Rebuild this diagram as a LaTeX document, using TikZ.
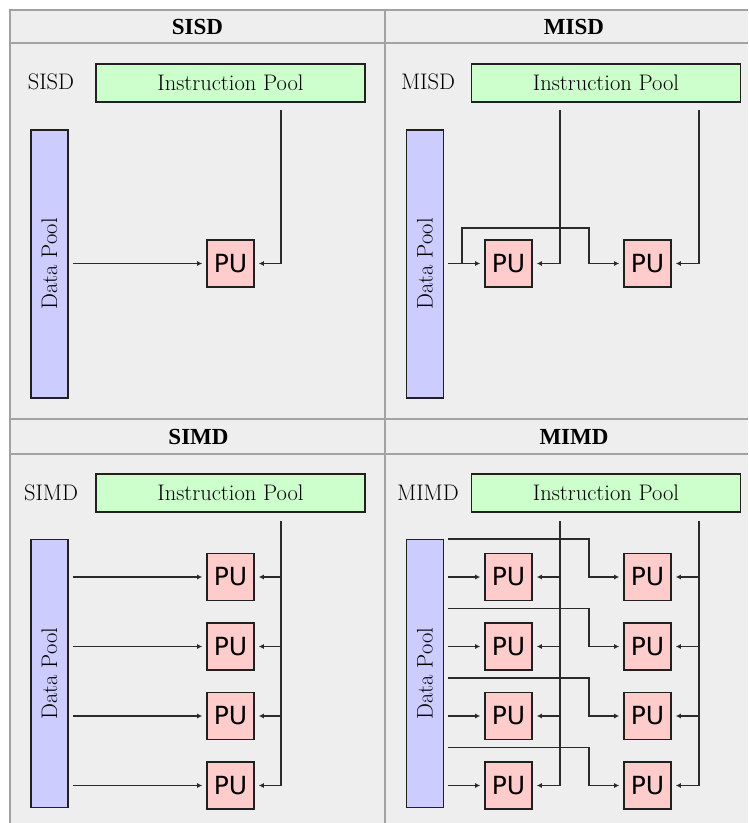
\documentclass[tikz,border=0pt]{standalone}
\usepackage{fontspec}
\newfontfamily\pufont{DejaVu Sans}
\newfontfamily\hdfont{Liberation Serif}
\usetikzlibrary{arrows.meta}
\definecolor{panelbg}{HTML}{EEEEEE}
\definecolor{gridline}{HTML}{A2A2A2}
\definecolor{ipfill}{HTML}{CCFFCC}
\definecolor{dpfill}{HTML}{CCCCFF}
\definecolor{pufill}{HTML}{FFCCCC}
\definecolor{boxline}{HTML}{202020}
\definecolor{wire}{HTML}{2A2A2A}
\tikzset{
  grid/.style={draw=gridline, line width=1.8pt},
  header/.style={font=\hdfont\bfseries\fontsize{23}{27}\selectfont, inner sep=0pt},
  tag/.style={font=\fontsize{22.5}{27}\selectfont, inner sep=0pt},
  ipool/.style={draw=boxline, line width=1.6pt, fill=ipfill, minimum width=269pt, minimum height=38pt, inner sep=0pt, font=\fontsize{22.5}{27}\selectfont},
  dpool/.style={draw=boxline, line width=1.6pt, fill=dpfill, minimum width=37pt, minimum height=268pt, inner sep=0pt},
  pubox/.style={draw=boxline, line width=1.6pt, fill=pufill, minimum width=47pt, minimum height=47pt, inner sep=0pt, font=\pufont\fontsize{25}{28}\selectfont},
  wireline/.style={draw=wire, line width=1.8pt},
  arr/.style={wireline, -{Latex[length=5pt,width=5pt]}, shorten >=4pt},
}
\begin{document}
\begin{tikzpicture}[x=1pt, y=-1pt]
\useasboundingbox (0,0) rectangle (748,823);
\fill[white] (0,0) rectangle (748,823);
\fill[panelbg] (10,10) rectangle (748,823);
% table grid
\draw[grid] (748,10) -- (10,10) -- (10,823);
\draw[grid] (385,10) -- (385,823);
\draw[grid] (10,43) -- (748,43);
\draw[grid] (10,419) -- (748,419);
\draw[grid] (10,454) -- (748,454);
% headers
\node[header] (h1) at (197.5,27) {SISD};
\node[header] (h2) at (574,27) {MISD};
\node[header] (h3) at (198.5,437) {SIMD};
\node[header] (h4) at (574,437) {MIMD};

% ===== SISD =====
\node[tag] (t1) at (51,82) {SISD};
\node[ipool] (ip1) at (230.5,83) {Instruction Pool};
\node[dpool] (dp1) at (49.5,264) {};
\node[tag, rotate=90] (dpt1) at (dp1) {Data Pool};
\node[pubox] (pu1) at (230.5,263.5) {PU};
\coordinate (i1) at (281,110);
\coordinate (d1) at (73,263.5);
\draw[arr] (d1) -- (pu1.west);
\draw[arr] (i1) |- (pu1.east);

% ===== MISD =====
\node[tag] (t2) at (428,82) {MISD};
\node[ipool] (ip2) at (606,83) {Instruction Pool};
\node[dpool] (dp2) at (425,264) {};
\node[tag, rotate=90] (dpt2) at (dp2) {Data Pool};
\node[pubox] (pu2a) at (508.5,263.5) {PU};
\node[pubox] (pu2b) at (647.5,263.5) {PU};
\coordinate (i2a) at (560,110);
\coordinate (i2b) at (699,110);
\coordinate (d2) at (448,263.5);
\coordinate (b2) at (462,263.5);
\coordinate (b2t) at (462,228);
\coordinate (b2r) at (589,228);
\draw[arr] (d2) -- (pu2a.west);
\draw[arr] (b2) -- (b2t) -- (b2r) |- (pu2b.west);
\draw[arr] (i2a) |- (pu2a.east);
\draw[arr] (i2b) |- (pu2b.east);

% ===== SIMD =====
\node[tag] (t3) at (51,493) {SIMD};
\node[ipool] (ip3) at (230.5,493) {Instruction Pool};
\node[dpool] (dp3) at (49.5,673.5) {};
\node[tag, rotate=90] (dpt3) at (dp3) {Data Pool};
\foreach \k/\yy in {1/577,2/646.5,3/716,4/785.5}{
  \node[pubox] (pu3\k) at (230.5,\yy) {PU};
  \coordinate (d3\k) at (73,\yy);
  \draw[arr] (d3\k) -- (pu3\k.west);
}
\coordinate (i3) at (281,521);
\draw[arr] (i3) |- (pu34.east);
\foreach \k in {1,2,3}{
  \draw[arr] (i3 |- pu3\k.east) -- (pu3\k.east);
}

% ===== MIMD =====
\node[tag] (t4) at (428,493) {MIMD};
\node[ipool] (ip4) at (606,493) {Instruction Pool};
\node[dpool] (dp4) at (425,673.5) {};
\node[tag, rotate=90] (dpt4) at (dp4) {Data Pool};
\coordinate (i4a) at (560,521);
\coordinate (i4b) at (699,521);
\foreach \k/\yy in {1/577,2/646.5,3/716,4/785.5}{
  \node[pubox] (pu4a\k) at (508.5,\yy) {PU};
  \node[pubox] (pu4b\k) at (647.5,\yy) {PU};
  \coordinate (d4\k) at (448,\yy);
  \coordinate (e4\k) at (448,\yy-38);
  \coordinate (f4\k) at (589,\yy-38);
  \draw[arr] (d4\k) -- (pu4a\k.west);
  \draw[arr] (e4\k) -- (f4\k) |- (pu4b\k.west);
}
\draw[arr] (i4a) |- (pu4a4.east);
\draw[arr] (i4b) |- (pu4b4.east);
\foreach \k in {1,2,3}{
  \draw[arr] (i4a |- pu4a\k.east) -- (pu4a\k.east);
  \draw[arr] (i4b |- pu4b\k.east) -- (pu4b\k.east);
}
\end{tikzpicture}
\end{document}
